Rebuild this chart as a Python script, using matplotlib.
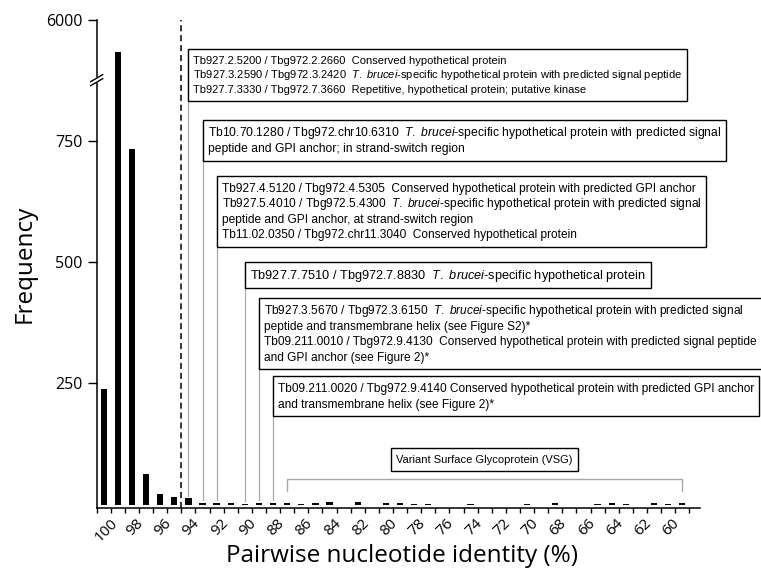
import numpy as np
import matplotlib.pyplot as plt
import matplotlib.transforms as mtransforms
from matplotlib.patches import Rectangle

plt.rcParams['font.family'] = 'Open Sans'
plt.rcParams['mathtext.fontset'] = 'custom'
plt.rcParams['mathtext.rm'] = 'Liberation Sans'
plt.rcParams['mathtext.it'] = 'Liberation Sans:italic'

# histogram of pairwise identity, one bar per percent (100 .. 59)
identity = list(range(100, 58, -1))
counts = [238, 3260, 734, 64, 21, 16, 13, 4, 4, 4, 2, 4, 4, 3, 2, 4, 5, 0, 5, 0,
          4, 4, 2, 2, 0, 0, 2, 0, 0, 0, 2, 0, 4, 0, 0, 2, 4, 2, 0, 4, 2, 4]
tick_labels = [str(v) for v in identity[:41:2]]
y_ticks = [250, 500, 750, 6000]

# annotated bins and their gene lists
TB = "$T.\\ brucei$"
box_bins = [94, 93, 92, 90, 89, 88]
box_texts = [
    ["Tb927.2.5200 / Tbg972.2.2660  Conserved hypothetical protein",
     "Tb927.3.2590 / Tbg972.3.2420  " + TB + "-specific hypothetical protein with predicted signal peptide",
     "Tb927.7.3330 / Tbg972.7.3660  Repetitive, hypothetical protein; putative kinase"],
    ["Tb10.70.1280 / Tbg972.chr10.6310  " + TB + "-specific hypothetical protein with predicted signal",
     "peptide and GPI anchor; in strand-switch region"],
    ["Tb927.4.5120 / Tbg972.4.5305  Conserved hypothetical protein with predicted GPI anchor",
     "Tb927.5.4010 / Tbg972.5.4300  " + TB + "-specific hypothetical protein with predicted signal",
     "peptide and GPI anchor, at strand-switch region",
     "Tb11.02.0350 / Tbg972.chr11.3040  Conserved hypothetical protein"],
    ["Tb927.7.7510 / Tbg972.7.8830  " + TB + "-specific hypothetical protein"],
    ["Tb927.3.5670 / Tbg972.3.6150  " + TB + "-specific hypothetical protein with predicted signal",
     "peptide and transmembrane helix (see Figure S2)*",
     "Tb09.211.0010 / Tbg972.9.4130  Conserved hypothetical protein with predicted signal peptide",
     "and GPI anchor (see Figure 2)*"],
    ["Tb09.211.0020 / Tbg972.9.4140 Conserved hypothetical protein with predicted GPI anchor",
     "and transmembrane helix (see Figure 2)*"],
]
box_tops_px = [49, 120, 176, 262, 298, 376]
box_fs = [8.0, 8.7, 8.55, 9.15, 8.58, 8.6]
vsg_range = (87, 59)
vsg_text = "Variant Surface Glycoprotein (VSG)"

W, H = 761, 574
ax_l, ax_b, ax_r, ax_t = 96.7, 507.7, 700, 20

fig = plt.figure(figsize=(W / 100, H / 100), dpi=100)
ax = fig.add_axes([ax_l / W, 1 - ax_b / H, (ax_r - ax_l) / W, (ax_b - ax_t) / H])

# broken y axis: linear up to the break, compressed above it
brk = 875.0
k = 0.0242


def fwd(y):
    y = np.asarray(y, dtype=float)
    return np.where(y <= brk, y, brk + (y - brk) * k)


def inv(t):
    t = np.asarray(t, dtype=float)
    return np.where(t <= brk, t, brk + (t - brk) / k)


ax.set_yscale('function', functions=(fwd, inv))

x = np.arange(len(counts))
ax.bar(x, counts, width=0.45, color='black', zorder=3)

ax.set_xlim(-0.5, 42.26)
ax.set_ylim(-6.4, 6000)

ax.set_yticks(y_ticks)
ax.set_yticklabels([str(v) for v in y_ticks])
ax.yaxis.set_minor_locator(plt.NullLocator())
ax.set_xticks(x[:41:2])
ax.set_xticklabels(tick_labels, rotation=45, ha='center')
ax.set_xticks(np.arange(-0.5, len(counts), 1), minor=True)

ax.tick_params(axis='y', length=6.7, width=1.0, pad=3.5, labelsize=11.5)
ax.tick_params(axis='x', which='major', length=0, pad=6.0, labelsize=11)
ax.tick_params(axis='x', which='minor', length=3.6, width=1.0)

# nudge the slanted labels a little to the right, as in the original
shift = mtransforms.ScaledTranslation(3 / 100, 0, fig.dpi_scale_trans)
for lbl in ax.get_xticklabels():
    lbl.set_transform(lbl.get_transform() + shift)

for s in ['top', 'right']:
    ax.spines[s].set_visible(False)
for s in ['left', 'bottom']:
    ax.spines[s].set_linewidth(1.1)

# break mark on the y spine
to_fr = lambda v: (fwd(v) - fwd(-6.4)) / (fwd(6000) - fwd(-6.4))
yb = float(to_fr(brk))
aw, ah = ax_r - ax_l, ax_b - ax_t
dx, dy = 6 / aw, 3.5 / ah
ax.fill([-dx, dx, dx, -dx], [yb - dy - 2 / ah, yb + dy - 2 / ah, yb + dy + 2 / ah, yb - dy + 2 / ah],
        color='white', transform=ax.transAxes, clip_on=False, zorder=5)
for off in (-2 / ah, 2 / ah):
    ax.plot([-dx, dx], [yb - dy + off, yb + dy + off], color='black', lw=1.0,
            transform=ax.transAxes, clip_on=False, zorder=6)

# 95% cut-off
ax.axvline(5.5, color='black', lw=1.1, ls=(0, (4, 2.5)), zorder=2)

xtrans = ax.get_xaxis_transform()
renderer = fig.canvas.get_renderer()
px2pt = 72 / 100


def text_box(i, top_px, lines, fs, center=False):
    fs_px = fs / px2pt
    frac = (ax_b - top_px) / ah
    texts = []
    for j, line in enumerate(lines):
        base = 1.35 * fs_px + j * 1.3 * fs_px
        t = ax.annotate(line, xy=(i, frac), xycoords=xtrans,
                        xytext=(0 if center else 5 * px2pt, -base * px2pt), textcoords='offset points',
                        ha='center' if center else 'left', va='baseline', fontsize=fs,
                        family='Liberation Sans', annotation_clip=False, zorder=6)
        texts.append(t)
    exts = [t.get_window_extent(renderer) for t in texts]
    x0 = min(e.x0 for e in exts) - 5
    x1 = max(e.x1 for e in exts) + 5
    y1 = H - top_px
    y0 = H - (top_px + 1.35 * fs_px + (len(lines) - 1) * 1.3 * fs_px + 0.72 * fs_px)
    ax.add_patch(Rectangle((x0 / W, y0 / H), (x1 - x0) / W, (y1 - y0) / H, transform=fig.transFigure,
                           fc='white', ec='black', lw=1.0, clip_on=False, zorder=5))
    return y0


for b, lines, top_px, fs in zip(box_bins, box_texts, box_tops_px, box_fs):
    i = identity.index(b)
    frac = (ax_b - top_px) / ah
    top_data = ax.transData.inverted().transform(ax.transAxes.transform((0, frac)))[1]
    ax.plot([i, i], [counts[i] + 5, top_data], color='#a8a8a8', lw=0.9, zorder=2)
    text_box(i, top_px, lines, fs)

# VSG bracket
i0, i1 = identity.index(vsg_range[0]), identity.index(vsg_range[1])
yh, yl = (ax_b - 479) / ah, (ax_b - 491) / ah
ax.plot([i0, i0, i1, i1], [yl, yh, yh, yl], color='#a8a8a8', lw=1.0, transform=xtrans, zorder=2)
text_box((i0 + i1) / 2, 448, [vsg_text], 8.0, center=True)

fig.text(25 / W, 1 - 264 / H, 'Frequency', rotation=90, ha='center', va='center', fontsize=17.5)
fig.text(402 / W, 1 - 556 / H, 'Pairwise nucleotide identity (%)', ha='center', va='center', fontsize=17.5)

plt.savefig('out.png', dpi=100)
